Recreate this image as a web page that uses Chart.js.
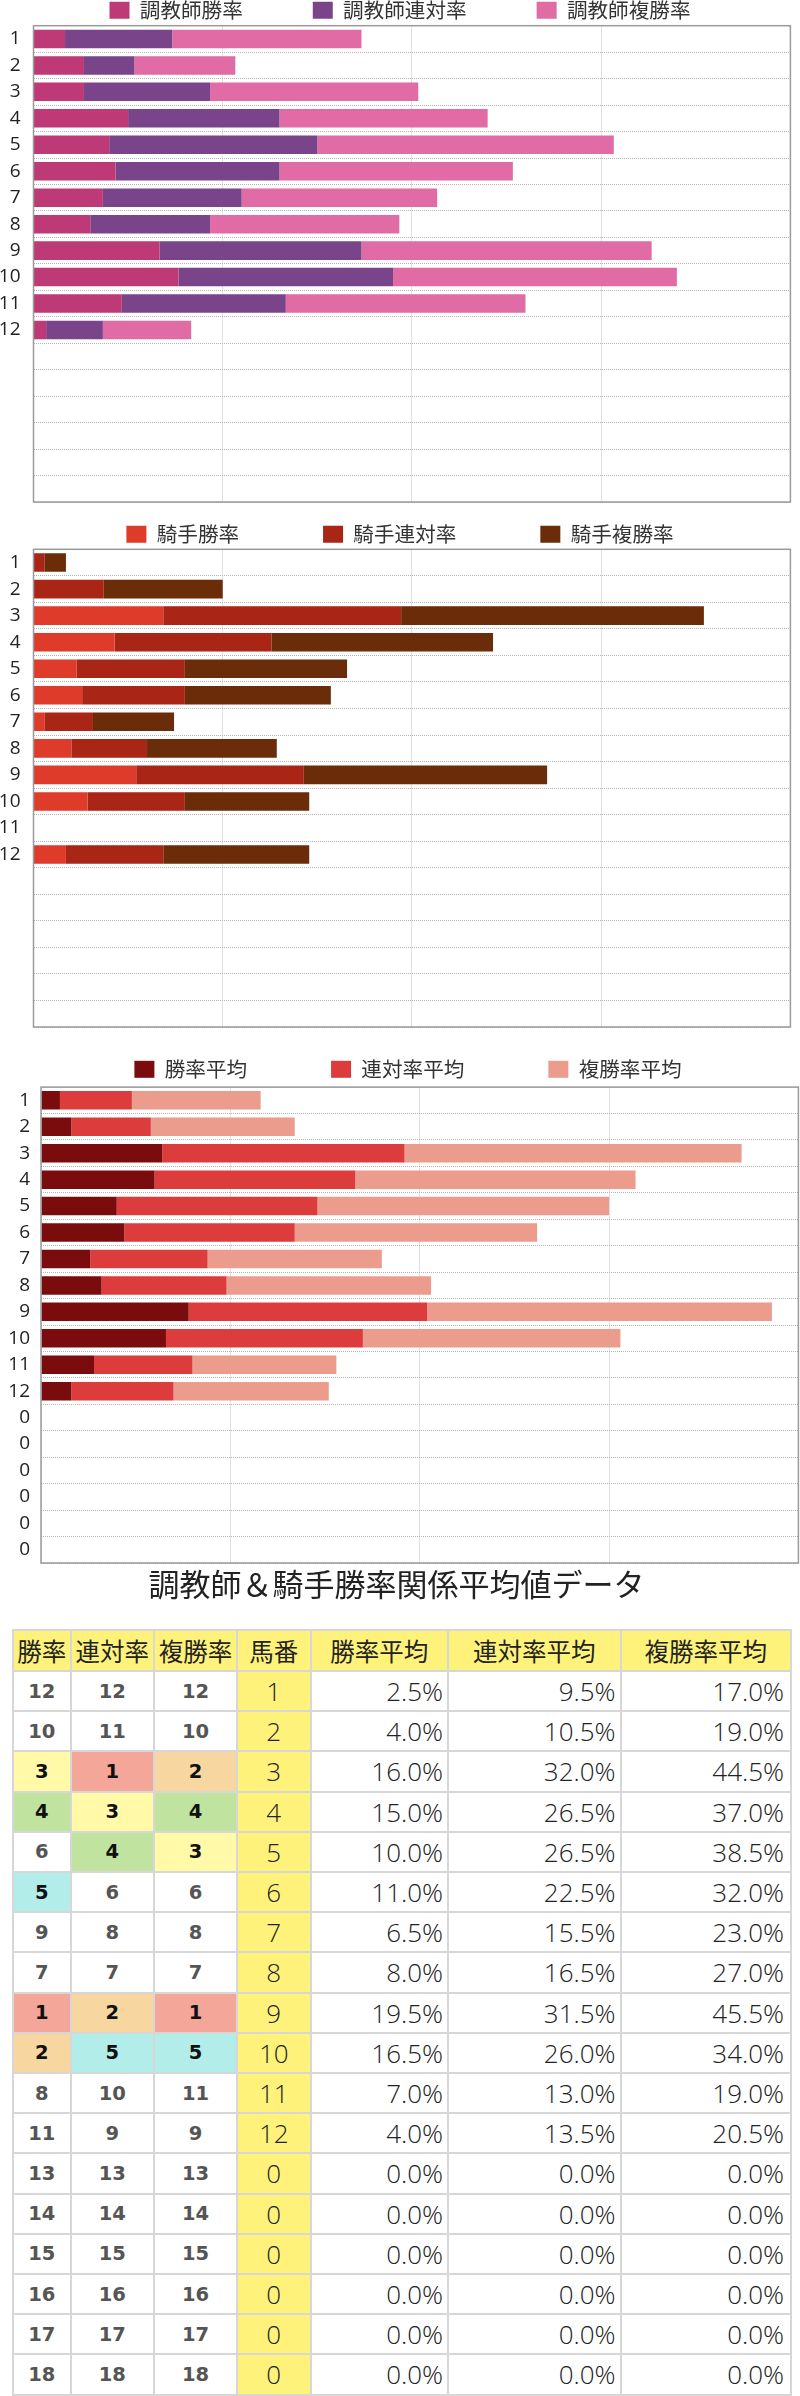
<!DOCTYPE html>
<html><head><meta charset="utf-8">
<script src="https://cdn.jsdelivr.net/npm/chart.js@4.4.0/dist/chart.umd.min.js"></script>
<style>
html,body{margin:0;padding:0;background:#fff;}
body{width:800px;height:2396px;position:relative;overflow:hidden;font-family:"Noto Sans CJK JP",sans-serif;}
canvas{position:absolute;}
#c1{left:0;top:-70px;}
#c2{left:0;top:440px;}
#c3{left:8px;top:975px;}
#title{position:absolute;left:0;top:1567px;width:793px;text-align:center;font-size:31px;line-height:31px;color:#222;font-family:"Noto Sans CJK JP",sans-serif;white-space:nowrap;}
.cell{position:absolute;box-sizing:border-box;border:2px solid #d7d7d7;display:flex;align-items:center;justify-content:center;color:#222;white-space:nowrap;}
.hd{font-family:"Noto Sans CJK JP",sans-serif;font-size:24.5px;background:#FFF27A;}
.rk{font-family:"DejaVu Sans",sans-serif;font-weight:bold;font-size:19.5px;color:#555;}
.rk.top{color:#111;}
.num{font-family:"Open Sans",sans-serif;font-weight:300;font-size:26px;background:#FFF27A;}
.pct{font-family:"Open Sans",sans-serif;font-weight:300;font-size:26px;justify-content:flex-end;padding-right:4px;}
.pct.last{padding-right:6px;}
</style>
</head>
<body>
<canvas id="c1" width="800" height="574"></canvas>
<canvas id="c2" width="800" height="589"></canvas>
<canvas id="c3" width="800" height="590"></canvas>
<div id="title">調教師＆騎手勝率関係平均値データ</div>
<div id="tbl"></div>
<script>
// ---- data ----
const horseLabels = ['1','2','3','4','5','6','7','8','9','10','11','12','','','','','',''];
const avgLabels = ['1','2','3','4','5','6','7','8','9','10','11','12','0','0','0','0','0','0'];

const trainerWin     = [5, 8, 8, 15, 12, 13, 11, 9, 20, 23, 14, 2];
const trainerRentai  = [17, 8, 20, 24, 33, 26, 22, 19, 32, 34, 26, 9];
const trainerFukusho = [30, 16, 33, 33, 47, 37, 31, 30, 46, 45, 38, 14];

const jockeyWin      = [0, 0, 24, 15, 8, 9, 2, 7, 19, 10, 0, 6];
const jockeyRentai   = [2, 13, 44, 29, 20, 19, 9, 14, 31, 18, 0, 18];
const jockeyFukusho  = [4, 22, 56, 41, 30, 27, 15, 24, 45, 23, 0, 27];

const avgWin     = [2.5, 4.0, 16.0, 15.0, 10.0, 11.0, 6.5, 8.0, 19.5, 16.5, 7.0, 4.0, 0, 0, 0, 0, 0, 0];
const avgRentai  = [9.5, 10.5, 32.0, 26.5, 26.5, 22.5, 15.5, 16.5, 31.5, 26.0, 13.0, 13.5, 0, 0, 0, 0, 0, 0];
const avgFukusho = [17.0, 19.0, 44.5, 37.0, 38.5, 32.0, 23.0, 27.0, 45.5, 34.0, 19.0, 20.5, 0, 0, 0, 0, 0, 0];

const rankWin     = [12, 10, 3, 4, 6, 5, 9, 7, 1, 2, 8, 11, 13, 14, 15, 16, 17, 18];
const rankRentai  = [12, 11, 1, 3, 4, 6, 8, 7, 2, 5, 10, 9, 13, 14, 15, 16, 17, 18];
const rankFukusho = [12, 10, 2, 4, 3, 6, 8, 7, 1, 5, 11, 9, 13, 14, 15, 16, 17, 18];
const umaban      = [1, 2, 3, 4, 5, 6, 7, 8, 9, 10, 11, 12, 0, 0, 0, 0, 0, 0];

const tableHeaders = ['勝率', '連対率', '複勝率', '馬番', '勝率平均', '連対率平均', '複勝率平均'];

const xMaxTrainer = 120, xStepTrainer = 30;
const xMaxJockey = 140, xStepJockey = 35;
const xMaxAvg = 100, xStepAvg = 25;

// ---- plugins ----
const legendFit = {
  id: 'legendFit',
  beforeLayout(chart, args, o) {
    const lg = chart.legend;
    if (lg && !lg._fitPatched) {
      const orig = lg.fit;
      lg.fit = function () { orig.call(this); this.height = o.h; };
      lg._fitPatched = true;
    }
  }
};
const frame = {
  id: 'frame',
  afterDatasetsDraw(chart, args, o) {
    const {ctx, chartArea: a} = chart;
    ctx.save();
    ctx.strokeStyle = o.color;
    ctx.lineWidth = o.width;
    ctx.strokeRect(a.left, a.top, a.right - a.left, a.bottom - a.top);
    ctx.restore();
  }
};

function makeChart(id, labels, sets, xmax, step, opt) {
  return new Chart(document.getElementById(id), {
    type: 'bar',
    data: {
      labels: labels,
      datasets: sets.map(s => ({
        label: s.label, data: s.data, backgroundColor: s.color,
        borderWidth: 0, barPercentage: 0.7, categoryPercentage: 1
      }))
    },
    options: {
      indexAxis: 'y',
      responsive: false,
      animation: false,
      layout: {padding: {left: 0, right: 0, top: 0, bottom: 2}},
      scales: {
        x: {
          stacked: true, min: 0, max: xmax,
          ticks: {display: false, stepSize: step},
          grid: {color: '#e2e2e2', lineWidth: 1, drawTicks: false},
          border: {display: false},
          afterFit(s) { s.paddingRight = 9.6; s.paddingLeft = 0; s.height = 0; }
        },
        y: {
          stacked: true,
          ticks: {font: {family: 'Open Sans', size: 19}, color: '#222', padding: opt.tickPad, autoSkip: false},
          grid: {color: '#b3b3b3', lineWidth: 1, drawTicks: false, offset: true},
          border: {display: false, dash: [1, 1]},
          afterFit(s) { s.width = opt.yWidth; s.paddingTop = 0; s.paddingBottom = 0; }
        }
      },
      plugins: {
        legend: {
          position: 'top',
          labels: {boxWidth: 20, boxHeight: 17, padding: opt.legendPad,
                   font: {family: 'Noto Sans CJK JP', size: 20.6}, color: '#333'}
        },
        tooltip: {enabled: false},
        legendFit: {h: opt.legendH},
        frame: {color: '#9a9a9a', width: 1.5}
      }
    },
    plugins: [legendFit, frame]
  });
}

makeChart('c1', horseLabels, [
  {label: '調教師勝率', data: trainerWin, color: '#BD3A76'},
  {label: '調教師連対率', data: trainerRentai, color: '#7A448A'},
  {label: '調教師複勝率', data: trainerFukusho, color: '#E06BA5'}
], xMaxTrainer, xStepTrainer, {tickPad: 13, yWidth: 33.5, legendPad: 70, legendH: 95.7});

makeChart('c2', horseLabels, [
  {label: '騎手勝率', data: jockeyWin, color: '#DE3B2A'},
  {label: '騎手連対率', data: jockeyRentai, color: '#A92516'},
  {label: '騎手複勝率', data: jockeyFukusho, color: '#6A2C09'}
], xMaxJockey, xStepJockey, {tickPad: 13, yWidth: 33.5, legendPad: 84, legendH: 109.3});

makeChart('c3', avgLabels, [
  {label: '勝率平均', data: avgWin, color: '#7B0C0E'},
  {label: '連対率平均', data: avgRentai, color: '#DC3C3C'},
  {label: '複勝率平均', data: avgFukusho, color: '#EC9C8C'}
], xMaxAvg, xStepAvg, {tickPad: 11, yWidth: 33, legendPad: 84, legendH: 112.1});

// ---- table ----
const colEdges = [13, 70.5, 154, 237, 310.5, 448, 620.5, 791];
const headTop = 1630, headBottom = 1671, rowH = 40.2;
const rankBg = {1: '#F4A698', 2: '#F8D6A0', 3: '#FFF9A8', 4: '#C0E3A0', 5: '#B3EDEA'};
const tbl = document.getElementById('tbl');
function addCell(ci, top, bottom, text, cls, bg) {
  const d = document.createElement('div');
  d.className = 'cell ' + cls;
  d.style.left = (colEdges[ci] - 1) + 'px';
  d.style.width = (colEdges[ci + 1] - colEdges[ci] + 2) + 'px';
  d.style.top = (top - 1) + 'px';
  d.style.height = (bottom - top + 2) + 'px';
  if (bg) d.style.background = bg;
  d.textContent = text;
  tbl.appendChild(d);
}
tableHeaders.forEach((h, i) => addCell(i, headTop, headBottom, h, 'hd'));
const fmt = v => v.toFixed(1) + '%';
for (let r = 0; r < umaban.length; r++) {
  const t = headBottom + r * rowH, b = t + rowH;
  [rankWin, rankRentai, rankFukusho].forEach((arr, ci) => {
    const v = arr[r];
    addCell(ci, t, b, String(v), 'rk' + (v <= 5 ? ' top' : ''), rankBg[v] || '#fff');
  });
  addCell(3, t, b, String(umaban[r]), 'num');
  addCell(4, t, b, fmt(avgWin[r]), 'pct', '#fff');
  addCell(5, t, b, fmt(avgRentai[r]), 'pct', '#fff');
  addCell(6, t, b, fmt(avgFukusho[r]), 'pct last', '#fff');
}
</script>
</body></html>
